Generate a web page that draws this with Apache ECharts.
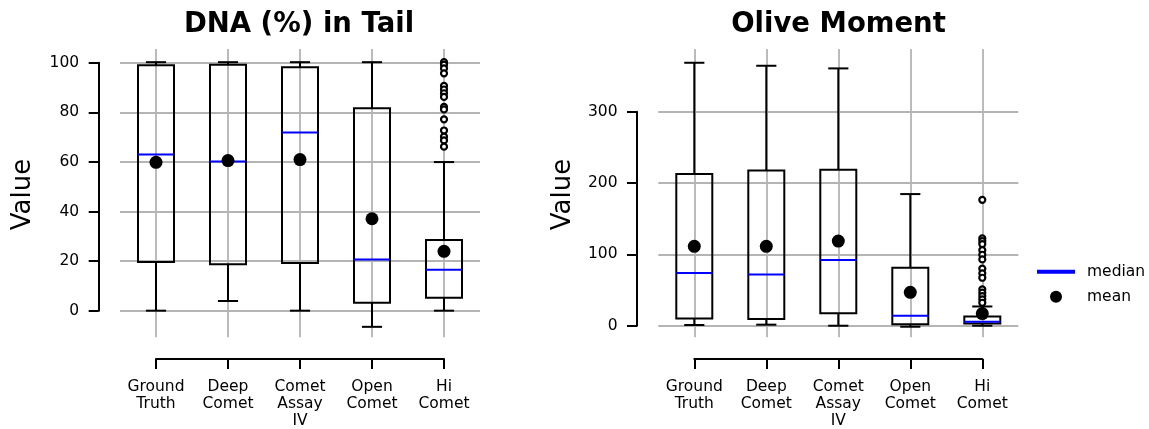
<!DOCTYPE html>
<html><head><meta charset="utf-8">
<script src="https://cdn.jsdelivr.net/npm/echarts@6/dist/echarts.min.js"></script>
<style>html,body{margin:0;padding:0;background:#fff}#c{width:1149px;height:429px}</style>
</head><body><div id="c"></div>
<script>
const categories = ['Ground\nTruth', 'Deep\nComet', 'Comet\nAssay\nIV', 'Open\nComet', 'Hi\nComet'];

// DNA (%) in Tail
const dnaLow    = [0, 3.9, 0, -6.5, 0];
const dnaQ1     = [19.6, 18.7, 19.2, 3.2, 5.2];
const dnaMedian = [62.8, 60.0, 71.7, 20.6, 16.5];
const dnaQ3     = [98.8, 99.0, 98.0, 81.5, 28.4];
const dnaHigh   = [100, 100, 100, 100, 59.8];
const dnaMean   = [59.7, 60.4, 60.8, 37.0, 23.9];
const dnaOutliersHi = [100, 99, 97.5, 95.5, 90.5, 89, 87.5, 86, 82, 81, 77, 72.5, 70, 68.5, 66];
const dnaTicks = [0, 20, 40, 60, 80, 100];

// Olive Moment
const oliveLow    = [1, 1.5, 0, -1.4, 0];
const oliveQ1     = [10.3, 9.4, 17.4, 2.2, 3.3];
const oliveMedian = [73.9, 72.0, 92.1, 14.0, 5.5];
const oliveQ3     = [212.7, 217.8, 218.7, 81.3, 13.0];
const oliveHigh   = [368.7, 364.5, 360.8, 184.6, 27.0];
const oliveMean   = [111.3, 111.3, 118.7, 46.8, 17.0];
const oliveOutliersHi = [176.6, 122.5, 118.7, 114.5, 106, 99.5, 93, 80, 73.5, 67.3, 51, 46.3, 41.6, 37, 32.2];
const oliveTicks = [0, 100, 200, 300];

const FONT = 'DejaVu Sans';
const GRID_COLOR = '#b4b4b4';

function boxData(low, q1, med, q3, high) {
  return categories.map((c, i) => [i, low[i], q1[i], med[i], q3[i], high[i]]);
}
function renderBox(params, api) {
  const i = api.value(0);
  const band = api.size([1, 0])[0];
  const hb = band * 0.25, hc = band * 0.14;
  const pLow = api.coord([i, api.value(1)]);
  const pQ1 = api.coord([i, api.value(2)]);
  const pQ3 = api.coord([i, api.value(4)]);
  const pHigh = api.coord([i, api.value(5)]);
  const cx = pQ1[0];
  const st = { stroke: '#000', lineWidth: 2, fill: null };
  return { type: 'group', children: [
    { type: 'rect', shape: { x: cx - hb, y: pQ3[1], width: 2 * hb, height: pQ1[1] - pQ3[1] }, style: { stroke: '#000', lineWidth: 2, fill: 'transparent' } },
    { type: 'line', shape: { x1: cx, y1: pQ3[1], x2: cx, y2: pHigh[1] }, style: st },
    { type: 'line', shape: { x1: cx, y1: pQ1[1], x2: cx, y2: pLow[1] }, style: st },
    { type: 'line', shape: { x1: cx - hc, y1: pHigh[1], x2: cx + hc, y2: pHigh[1] }, style: st },
    { type: 'line', shape: { x1: cx - hc, y1: pLow[1], x2: cx + hc, y2: pLow[1] }, style: st }
  ]};
}
function renderMedian(params, api) {
  const i = api.value(0);
  const band = api.size([1, 0])[0];
  const hb = band * 0.25;
  const p = api.coord([i, api.value(1)]);
  return { type: 'line', shape: { x1: p[0] - hb, y1: p[1], x2: p[0] + hb, y2: p[1] }, style: { stroke: '#0000ff', lineWidth: 2 } };
}

const panels = [
  { left: 120, title: 'DNA (%) in Tail', titleX: 299, yMin: -11.8, yMax: 105.3, ticks: dnaTicks,
    spineTop: 62.7, spineH: 248, nameGap: 84,
    low: dnaLow, q1: dnaQ1, med: dnaMedian, q3: dnaQ3, high: dnaHigh, mean: dnaMean, out: dnaOutliersHi },
  { left: 658.3, title: 'Olive Moment', titleX: 838.5, yMin: -20, yMax: 388, ticks: oliveTicks,
    spineTop: 111.7, spineH: 214, nameGap: 82.5,
    low: oliveLow, q1: oliveQ1, med: oliveMedian, q3: oliveQ3, high: oliveHigh, mean: oliveMean, out: oliveOutliersHi }
];

const grid = [], xAxis = [], yAxis = [], series = [], graphic = [];
const lineSt = { color: '#000', width: 2 };
panels.forEach((p, k) => {
  const g0 = k * 3;
  grid.push({ left: p.left, top: 49, width: 360, height: 291 });
  grid.push({ left: p.left, top: p.spineTop, width: 360, height: p.spineH });
  grid.push({ left: p.left + 36, top: 49, width: 288, height: 291 });
  const tickInt = p.ticks[1] - p.ticks[0];
  // data axes
  xAxis.push({ gridIndex: g0, type: 'category', data: categories, boundaryGap: true, show: false });
  yAxis.push({ gridIndex: g0, type: 'value', min: p.yMin, max: p.yMax,
    axisLine: { show: false, onZero: false }, axisTick: { show: false }, axisLabel: { show: false }, splitLine: { show: false },
    name: 'Value', nameLocation: 'middle', nameRotate: 90, nameGap: p.nameGap,
    nameTextStyle: { fontSize: 26, fontFamily: FONT, color: '#000' } });
  // y spine
  xAxis.push({ gridIndex: g0 + 1, type: 'value', show: false, axisLine: { onZero: false } });
  yAxis.push({ gridIndex: g0 + 1, type: 'value', position: 'left', min: p.ticks[0], max: p.ticks[p.ticks.length - 1], interval: tickInt,
    offset: 21.3,
    axisLine: { show: true, onZero: false, lineStyle: lineSt }, axisTick: { show: true, length: 10, lineStyle: lineSt },
    axisLabel: { margin: 19.5, fontSize: 15.5, fontFamily: FONT, color: '#000' },
    splitLine: { show: true, lineStyle: { color: GRID_COLOR, width: 1.8 } } });
  // x spine
  xAxis.push({ gridIndex: g0 + 2, type: 'category', data: categories, boundaryGap: false, position: 'bottom', offset: 21.7,
    axisLine: { show: true, onZero: false, lineStyle: lineSt }, axisTick: { show: true, length: 10, interval: 0, lineStyle: lineSt },
    axisLabel: { interval: 0, margin: 19, fontSize: 15.5, lineHeight: 17, fontFamily: FONT, color: '#000' },
    splitLine: { show: true, interval: 0, lineStyle: { color: GRID_COLOR, width: 1.8 } } });
  yAxis.push({ gridIndex: g0 + 2, type: 'value', show: false, axisLine: { onZero: false } });

  series.push({ type: 'custom', name: 'box', xAxisIndex: g0, yAxisIndex: g0, z: 3,
    encode: { x: 0, y: [1, 2, 3, 4, 5] }, renderItem: renderBox,
    data: boxData(p.low, p.q1, p.med, p.q3, p.high) });
  series.push({ type: 'custom', name: 'median', xAxisIndex: g0, yAxisIndex: g0, z: 4,
    itemStyle: { color: '#0000ff' },
    encode: { x: 0, y: 1 }, renderItem: renderMedian,
    data: p.med.map((v, i) => [i, v]) });
  series.push({ type: 'scatter', name: 'outliers', xAxisIndex: g0, yAxisIndex: g0, z: 5,
    symbol: 'circle', symbolSize: 6,
    itemStyle: { color: '#fff', borderColor: '#000', borderWidth: 2.2, opacity: 1 },
    data: p.out.map(v => [4, v]) });
  series.push({ type: 'scatter', name: 'mean', xAxisIndex: g0, yAxisIndex: g0, z: 6,
    symbol: 'circle', symbolSize: 13, itemStyle: { color: '#000', opacity: 1 },
    data: p.mean.map((v, i) => [i, v]) });

  graphic.push({ type: 'text', x: p.titleX, y: 25, style: { text: p.title, font: 'bold 27.5px "DejaVu Sans"', fill: '#000', align: 'center', verticalAlign: 'middle' } });
});

const option = {
  animation: false,
  backgroundColor: '#fff',
  grid, xAxis, yAxis, series, graphic,
  legend: [
    { data: [{ name: 'median', icon: 'rect' }], left: 1037, top: 262.7, padding: 0, itemWidth: 38, itemHeight: 4, selectedMode: false,
      textStyle: { fontSize: 15.5, fontFamily: FONT, color: '#000', lineHeight: 18, padding: [0, 0, 0, 7] } },
    { data: [{ name: 'mean', icon: 'circle' }], left: 1050, top: 287.7, padding: 0, itemWidth: 12, itemHeight: 12, selectedMode: false,
      textStyle: { fontSize: 15.5, fontFamily: FONT, color: '#000', lineHeight: 18, padding: [0, 0, 0, 20] } }
  ]
};
const chart = echarts.init(document.getElementById('c'), null, { renderer: 'canvas' });
chart.setOption(option);
</script></body></html>
